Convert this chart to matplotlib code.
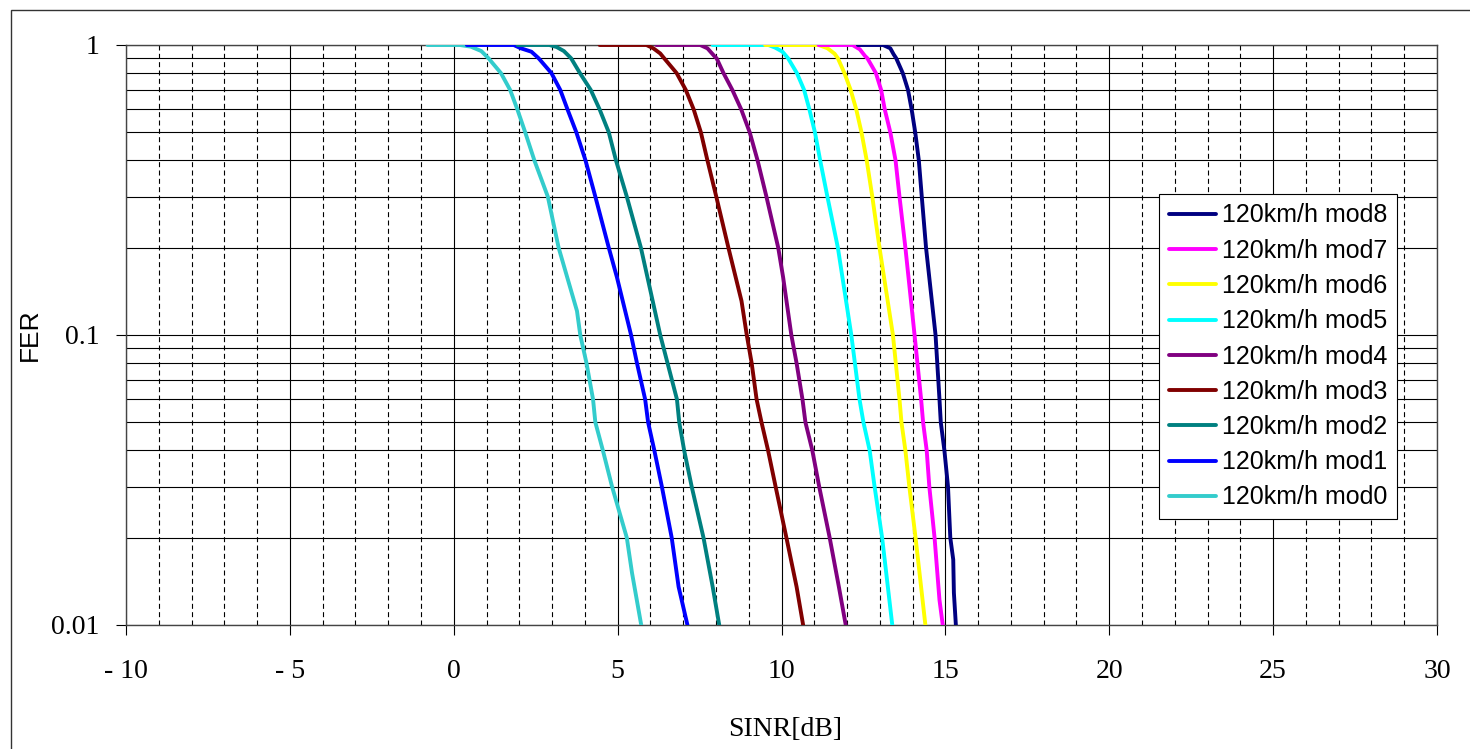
import matplotlib
matplotlib.use("Agg")
import matplotlib.pyplot as plt
from matplotlib.patches import Rectangle
from matplotlib.ticker import FixedLocator, NullFormatter, LogLocator

# FER vs SINR curves for the 120 km/h channel, modulation/coding schemes 0..8
mod0_x = [-0.80, 0.19, 0.52, 0.84, 1.06, 1.44, 1.72, 1.94, 2.18, 2.46, 2.87, 3.20, 3.76, 3.86, 4.05, 4.25, 4.32, 4.55, 4.83, 5.28, 5.44, 5.72]
mod0_y = [1.0, 1.0, 0.987, 0.953, 0.90, 0.80, 0.70, 0.60, 0.50, 0.40, 0.30, 0.20, 0.121, 0.10, 0.08, 0.06, 0.05, 0.04, 0.03, 0.02, 0.0151, 0.01]

mod1_x = [0.40, 1.83, 2.05, 2.37, 2.59, 2.98, 3.25, 3.47, 3.74, 4.02, 4.32, 4.73, 4.98, 5.41, 5.59, 5.84, 5.93, 6.12, 6.35, 6.65, 6.86, 7.13]
mod1_y = [1.0, 1.0, 0.974, 0.948, 0.90, 0.80, 0.70, 0.60, 0.50, 0.40, 0.30, 0.20, 0.158, 0.10, 0.08, 0.06, 0.05, 0.04, 0.03, 0.02, 0.01355, 0.01]

mod2_x = [1.95, 2.92, 3.14, 3.36, 3.58, 3.85, 4.18, 4.45, 4.73, 4.95, 5.28, 5.71, 6.30, 6.81, 6.88, 7.03, 7.26, 7.62, 7.90, 8.10]
mod2_y = [1.0, 1.0, 0.984, 0.953, 0.90, 0.80, 0.70, 0.60, 0.50, 0.40, 0.30, 0.20, 0.10, 0.06, 0.05, 0.04, 0.03, 0.02, 0.01355, 0.01]

mod3_x = [4.45, 5.88, 6.09, 6.30, 6.42, 6.80, 7.08, 7.32, 7.54, 7.74, 8.01, 8.38, 8.78, 8.94, 9.09, 9.24, 9.39, 9.59, 9.82, 10.15, 10.46, 10.66]
mod3_y = [1.0, 1.0, 0.974, 0.935, 0.90, 0.80, 0.70, 0.60, 0.50, 0.40, 0.30, 0.20, 0.131, 0.10, 0.08, 0.06, 0.05, 0.04, 0.03, 0.02, 0.01355, 0.01]

mod4_x = [6.18, 7.52, 7.74, 7.95, 8.02, 8.23, 8.50, 8.77, 9.03, 9.27, 9.54, 9.90, 10.05, 10.30, 10.46, 10.64, 10.73, 10.94, 11.15, 11.47, 11.75, 11.96]
mod4_y = [1.0, 1.0, 0.974, 0.916, 0.90, 0.80, 0.70, 0.60, 0.50, 0.40, 0.30, 0.20, 0.158, 0.10, 0.08, 0.06, 0.05, 0.04, 0.03, 0.02, 0.01355, 0.01]

mod5_x = [7.90, 9.60, 9.81, 10.03, 10.20, 10.47, 10.69, 10.85, 11.02, 11.18, 11.40, 11.72, 12.13, 12.38, 12.50, 12.69, 12.84, 13.07, 13.38]
mod5_y = [1.0, 1.0, 0.979, 0.948, 0.90, 0.80, 0.70, 0.60, 0.50, 0.40, 0.30, 0.20, 0.10, 0.06, 0.05, 0.04, 0.03, 0.02, 0.01]

mod6_x = [9.50, 11.13, 11.40, 11.62, 11.72, 11.92, 12.11, 12.28, 12.44, 12.60, 12.77, 12.99, 13.40, 13.60, 13.66, 13.78, 13.90, 14.09, 14.39]
mod6_y = [1.0, 1.0, 0.975, 0.933, 0.90, 0.80, 0.70, 0.60, 0.50, 0.40, 0.30, 0.20, 0.10, 0.06, 0.05, 0.04, 0.03, 0.02, 0.01]

mod7_x = [11.13, 12.17, 12.39, 12.55, 12.62, 12.88, 13.04, 13.15, 13.32, 13.48, 13.60, 13.78, 14.06, 14.26, 14.32, 14.43, 14.51, 14.67, 14.82, 14.92]
mod7_y = [1.0, 1.0, 0.966, 0.916, 0.90, 0.80, 0.70, 0.60, 0.50, 0.40, 0.30, 0.20, 0.10, 0.06, 0.05, 0.04, 0.03, 0.02, 0.0122, 0.01]

mod8_x = [12.33, 13.10, 13.32, 13.42, 13.50, 13.70, 13.86, 13.97, 14.08, 14.19, 14.28, 14.41, 14.70, 14.82, 14.86, 14.97, 15.08, 15.15, 15.24, 15.26, 15.32]
mod8_y = [1.0, 1.0, 0.974, 0.929, 0.90, 0.80, 0.70, 0.60, 0.50, 0.40, 0.30, 0.20, 0.10, 0.06, 0.05, 0.04, 0.03, 0.02, 0.0168, 0.0129, 0.01]

series_names = ["120km/h mod0", "120km/h mod1", "120km/h mod2", "120km/h mod3",
                "120km/h mod4", "120km/h mod5", "120km/h mod6", "120km/h mod7",
                "120km/h mod8"]
series_colors = ["#33CCCC", "#0000FF", "#008080", "#800000", "#800080",
                 "#00FFFF", "#FFFF00", "#FF00FF", "#000080"]

x_ticks = [-10, -5, 0, 5, 10, 15, 20, 25, 30]
x_tick_labels = ["- 10", "- 5", "0", "5", "10", "15", "20", "25", "30"]
y_ticks = [0.01, 0.1, 1]
y_tick_labels = ["0.01", "0.1", "1"]

W, H = 1470, 749
fig = plt.figure(figsize=(W / 100, H / 100), dpi=100)
fig.patch.set_facecolor("white")

# outer chart-area frame (runs off the right and bottom edges)
fig.add_artist(Rectangle((11 / W, -0.2), 1.2, 1.2 - 10 / H,
                         transform=fig.transFigure, fill=False,
                         edgecolor="#333333", linewidth=1.0, clip_on=False))

ax = fig.add_axes([126 / W, 1 - 625 / H, 1311 / W, 580 / H])
ax.set_yscale("log")
ax.set_xlim(-10, 30)
ax.set_ylim(0.01, 1)

xs = [mod0_x, mod1_x, mod2_x, mod3_x, mod4_x, mod5_x, mod6_x, mod7_x, mod8_x]
ys = [mod0_y, mod1_y, mod2_y, mod3_y, mod4_y, mod5_y, mod6_y, mod7_y, mod8_y]
lines = []
for x, y, name, c in zip(xs, ys, series_names, series_colors):
    ln, = ax.plot(x, y, color=c, linewidth=2.8, label=name,
                  solid_joinstyle="round", solid_capstyle="round", zorder=3)
    lines.append(ln)

# grid: solid at every 5 dB, dashed at every 1 dB; solid at every log step
ax.xaxis.set_major_locator(FixedLocator(x_ticks))
ax.xaxis.set_minor_locator(FixedLocator([v for v in range(-10, 31) if v % 5 != 0]))
ax.yaxis.set_major_locator(FixedLocator(y_ticks))
ax.yaxis.set_minor_locator(LogLocator(base=10, subs=range(2, 10)))
ax.yaxis.set_minor_formatter(NullFormatter())
ax.set_xticklabels(x_tick_labels)
ax.set_yticklabels(y_tick_labels)

ax.grid(which="major", axis="both", color="black", linewidth=0.8, linestyle="-", zorder=1)
ax.grid(which="minor", axis="y", color="black", linewidth=0.8, linestyle="-", zorder=1)
ax.grid(which="minor", axis="x", color="black", linewidth=0.8, linestyle=(0, (4.5, 3)), zorder=1)
ax.set_axisbelow(True)

for s in ax.spines.values():
    s.set_color("#444444")
    s.set_linewidth(1.0)

serif = ["Liberation Serif", "DejaVu Serif"]
sans = ["Liberation Sans", "DejaVu Sans"]
ax.tick_params(which="major", direction="out", length=7.2, width=0.8, color="black")
ax.tick_params(which="minor", length=0)
ax.tick_params(axis="y", pad=12)
ax.tick_params(axis="x", pad=17)
for lab in ax.get_xticklabels() + ax.get_yticklabels():
    lab.set_fontfamily(serif)
    lab.set_fontsize(20)

ax.set_xlabel("SINR[dB]", fontfamily=serif, fontsize=20)
ax.xaxis.set_label_coords((785 - 126) / 1311, (625 - 717) / 580)
ax.set_ylabel("FER", fontfamily=sans, fontsize=19)
ax.yaxis.set_label_coords((42 - 126) / 1311, 0.5)

leg = ax.legend(handles=lines[::-1], loc="upper left",
                bbox_to_anchor=(1159 / W, 1 - 194 / H), bbox_transform=fig.transFigure,
                frameon=True, fancybox=False, framealpha=1, edgecolor="black",
                borderaxespad=0, borderpad=0.38, handlelength=1.9, handletextpad=0.25,
                labelspacing=0.45, prop={"family": sans, "size": 18})
leg.get_frame().set_linewidth(0.8)
leg.set_zorder(5)

fig.savefig("out.png", dpi=100, facecolor="white")
